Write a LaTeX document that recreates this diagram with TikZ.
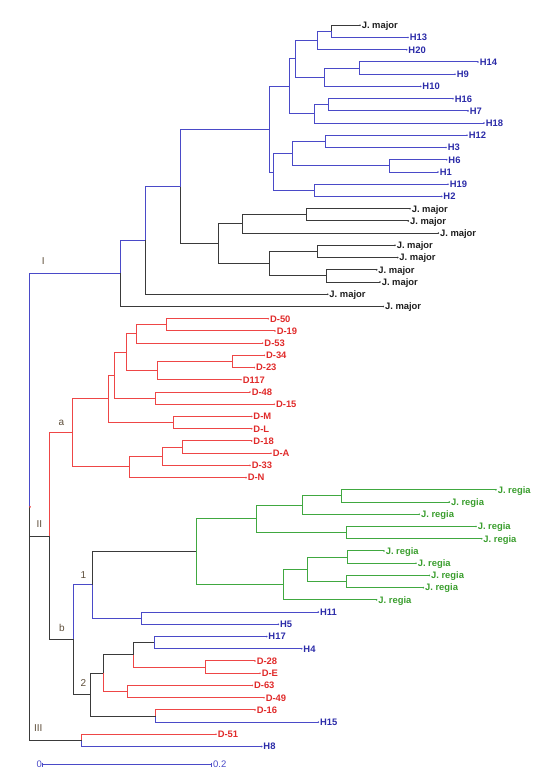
\documentclass[tikz,border=0pt]{standalone}
\usepackage{fontspec}
\setmainfont{Liberation Sans}
\usetikzlibrary{calc}
\definecolor{linblue}{HTML}{4A4AC8}
\definecolor{txtblue}{HTML}{2B2BA8}
\definecolor{linred}{HTML}{EE4646}
\definecolor{txtred}{HTML}{E02A2A}
\definecolor{lingreen}{HTML}{40A840}
\definecolor{txtgreen}{HTML}{3A9E2E}
\definecolor{linblack}{HTML}{3A3A3A}
\definecolor{txtblack}{HTML}{1E1E1E}
\definecolor{cladelab}{HTML}{5E4E3A}
\tikzset{
  br/.style={line width=1pt, line join=miter},
  bl/.style={br, draw=linblue},
  rd/.style={br, draw=linred},
  gr/.style={br, draw=lingreen},
  bk/.style={br, draw=linblack},
  leaf/.style={anchor=west, inner sep=1.6pt, font=\bfseries\fontsize{9.4}{9.4}\selectfont, text height=6.7pt, text depth=0pt},
  bleaf/.style={leaf, text=txtblue},
  rleaf/.style={leaf, text=txtred},
  gleaf/.style={leaf, text=txtgreen},
  kleaf/.style={leaf, text=txtblack},
  clab/.style={font=\fontsize{10}{10}\selectfont, text=cladelab, inner sep=0pt},
  scl/.style={font=\fontsize{9.5}{9.5}\selectfont, text=linblue, inner sep=1pt},
}

\begin{document}
\begin{tikzpicture}[x=1pt, y=-12.225pt]
  \useasboundingbox (0,-2.07) rectangle (550,61.49);
  % leaves: name / tip x / row / text
  \foreach \n/\x/\r/\t in {jm0/360/0/J. major, jm1/410/15/J. major, jm2/408.3/16/J. major,
      jm3/438.3/17/J. major, jm4/395/18/J. major, jm5/397.7/19/J. major, jm6/376.7/20/J. major,
      jm7/380/21/J. major, jm8/327.7/22/J. major, jm9/383.3/23/J. major}
    {\node[kleaf] (\n) at (\x,\r) {\t}; \fill[linblack] (\x,\r) circle (0.9pt);}
  \foreach \n/\x/\r/\t in {h13/408/1/H13, h20/406.7/2/H20, h14/478/3/H14, h9/455/4/H9,
      h10/420.7/5/H10, h16/453/6/H16, h7/468/7/H7, h18/484/8/H18, h12/467/9/H12, h3/446/10/H3,
      h6/446.7/11/H6, h1/438/12/H1, h19/448/13/H19, h2/441.7/14/H2, h11/318.3/48/H11,
      h5/278.3/49/H5, h17/266.7/50/H17, h4/301.7/51/H4, h15/318.3/57/H15, h8/261.7/59/H8}
    {\node[bleaf] (\n) at (\x,\r) {\t}; \fill[linblue] (\x,\r) circle (0.9pt);}
  \foreach \n/\x/\r/\t in {d50/268.3/24/D-50, d19/275/25/D-19, d53/262.7/26/D-53,
      d34/264.3/27/D-34, d23/254.3/28/D-23, d117/241/29/D117, d48/250/30/D-48, d15/274.3/31/D-15,
      dM/251.7/32/D-M, dL/251.7/33/D-L, d18/251.7/34/D-18, dA/271/35/D-A, d33/250/36/D-33,
      dN/246/37/D-N, d28/255/52/D-28, dE/260/53/D-E, d63/252.3/54/D-63, d49/264/55/D-49,
      d16/255/56/D-16, d51/216/58/D-51}
    {\node[rleaf] (\n) at (\x,\r) {\t}; \fill[linred] (\x,\r) circle (0.9pt);}
  \foreach \n/\x/\r/\t in {jr1/496/38/J. regia, jr2/449.3/39/J. regia, jr3/419.3/40/J. regia,
      jr4/476/41/J. regia, jr5/481.7/42/J. regia, jr6/384/43/J. regia, jr7/416/44/J. regia,
      jr8/429.3/45/J. regia, jr9/423.3/46/J. regia, jr10/376.7/47/J. regia}
    {\node[gleaf] (\n) at (\x,\r) {\t}; \fill[lingreen] (\x,\r) circle (0.9pt);}

  % internal nodes, clade I
  \coordinate (A1) at (331.7,0.5);    \coordinate (A2) at (317.3,1.25);
  \coordinate (A3) at (360,3.5);      \coordinate (A4) at (324.3,4.25);
  \coordinate (A5) at (296,2.75);     \coordinate (A6) at (329,6.5);
  \coordinate (A7) at (314.3,7.25);   \coordinate (A8) at (289.3,5);
  \coordinate (A9) at (325.7,9.5);    \coordinate (A10) at (390,11.5);
  \coordinate (A11) at (292.3,10.5);  \coordinate (A12) at (314.3,13.5);
  \coordinate (A13) at (274,12);      \coordinate (A14) at (270,8.5);
  \coordinate (J1) at (306.7,15.5);   \coordinate (J2) at (242.3,16.25);
  \coordinate (J3) at (317.7,18.5);   \coordinate (J4) at (326.7,20.5);
  \coordinate (J5) at (270,19.5);     \coordinate (J6) at (218.3,17.875);
  \coordinate (A15) at (181,13.19);   \coordinate (A16) at (145.7,17.59);
  \coordinate (A17) at (120.7,20.3);
  % clade II a
  \coordinate (R1) at (166.7,24.5);   \coordinate (R2) at (136.7,25.25);
  \coordinate (R3) at (232.7,27.5);   \coordinate (R4) at (157.7,28.25);
  \coordinate (R5) at (126.7,26.75);  \coordinate (R6) at (156,30.5);
  \coordinate (R7) at (114.3,28.625); \coordinate (R8) at (173.3,32.5);
  \coordinate (R9) at (109,30.56);    \coordinate (R10) at (182.7,34.5);
  \coordinate (R11) at (162.7,35.25); \coordinate (R12) at (129.3,36.125);
  \coordinate (Na) at (72.7,33.34);
  % clade II b
  \coordinate (G1) at (341.7,38.5);   \coordinate (G2) at (302.7,39.25);
  \coordinate (G3) at (346.7,41.5);   \coordinate (G4) at (256.7,40.375);
  \coordinate (G5) at (347.3,43.5);   \coordinate (G6) at (346.7,45.5);
  \coordinate (G7) at (307.3,44.5);   \coordinate (G8) at (283.3,45.75);
  \coordinate (G9) at (196.7,43.06);  \coordinate (B1) at (141.7,48.5);
  \coordinate (N1) at (92.7,45.78);
  \coordinate (C1) at (154.3,50.5);   \coordinate (C2) at (205.7,52.5);
  \coordinate (C3) at (134,51.5);     \coordinate (C4) at (127.7,54.5);
  \coordinate (C5) at (104,53);       \coordinate (C6) at (155.7,56.5);
  \coordinate (N2) at (91,54.75);     \coordinate (Nb) at (74,50.27);
  \coordinate (NII) at (49.3,41.8);
  % clade III and root
  \coordinate (T1) at (81.7,58.5);
  \coordinate (root) at (30,39.4);

  % branches
  \foreach \p/\c in {A1/h13.west, A2/A1, A2/h20.west, A3/h14.west, A3/h9.west, A4/A3,
      A4/h10.west, A5/A2, A5/A4, A6/h16.west, A6/h7.west, A7/A6, A7/h18.west, A8/A5, A8/A7,
      A9/h12.west, A9/h3.west, A10/h6.west, A10/h1.west, A11/A9, A11/A10, A12/h19.west,
      A12/h2.west, A13/A11, A13/A12, A14/A8, A14/A13, A15/A14, A16/A15, A17/A16, root/A17,
      N1/B1, B1/h11.west, B1/h5.west, Nb/N1, C1/h17.west, C1/h4.west, C6/h15.west, T1/h8.west}
    \draw[bl] (\p) |- (\c);
  \foreach \p/\c in {A1/jm0.west, J1/jm1.west, J1/jm2.west, J2/J1, J2/jm3.west, J3/jm4.west,
      J3/jm5.west, J4/jm6.west, J4/jm7.west, J5/J3, J5/J4, J6/J2, J6/J5, A15/J6, A16/jm8.west,
      A17/jm9.west, root/NII, root/T1, NII/Nb, Nb/N2, N1/G9, N2/C5, N2/C6, C5/C3, C3/C1}
    \draw[bk] (\p) |- (\c);
  \foreach \p/\c in {R1/d50.west, R1/d19.west, R2/R1, R2/d53.west, R3/d34.west, R3/d23.west,
      R4/R3, R4/d117.west, R5/R2, R5/R4, R6/d48.west, R6/d15.west, R7/R5, R7/R6, R8/dM.west,
      R8/dL.west, R9/R7, R9/R8, R10/d18.west, R10/dA.west, R11/R10, R11/d33.west, R12/R11,
      R12/dN.west, Na/R9, Na/R12, NII/Na, C2/d28.west, C2/dE.west, C3/C2, C4/d63.west,
      C4/d49.west, C5/C4, C6/d16.west, T1/d51.west}
    \draw[rd] (\p) |- (\c);
  \foreach \p/\c in {G1/jr1.west, G1/jr2.west, G2/G1, G2/jr3.west, G3/jr4.west, G3/jr5.west,
      G4/G2, G4/G3, G5/jr6.west, G5/jr7.west, G6/jr8.west, G6/jr9.west, G7/G5, G7/G6, G8/G7,
      G8/jr10.west, G9/G4, G9/G8}
    \draw[gr] (\p) |- (\c);
  \fill[linred] (root) circle (1pt);

  % clade labels
  \node[clab] (labI) at (43.3,19.26) {I};
  \node[clab] (labII) at (39.3,40.82) {II};
  \node[clab] (labIII) at (38.3,57.51) {III};
  \node[clab] (laba) at (61.3,32.51) {a};
  \node[clab] (labb) at (62,49.28) {b};
  \node[clab] (lab1) at (83.3,44.97) {1};
  \node[clab] (lab2) at (83.3,53.78) {2};

  % scale bar
  \coordinate (s0) at (43,60.48);
  \coordinate (s1) at (212,60.48);
  \draw[bl] (s0) -- (s1);
  \draw[bl] ($(s0)+(0,-0.16)$) -- ($(s0)+(0,0.16)$);
  \draw[bl] ($(s1)+(0,-0.16)$) -- ($(s1)+(0,0.16)$);
  \node[scl, anchor=east] (sc0) at (s0) {0};
  \node[scl, anchor=west] (sc1) at (s1) {0.2};
\end{tikzpicture}
\end{document}
